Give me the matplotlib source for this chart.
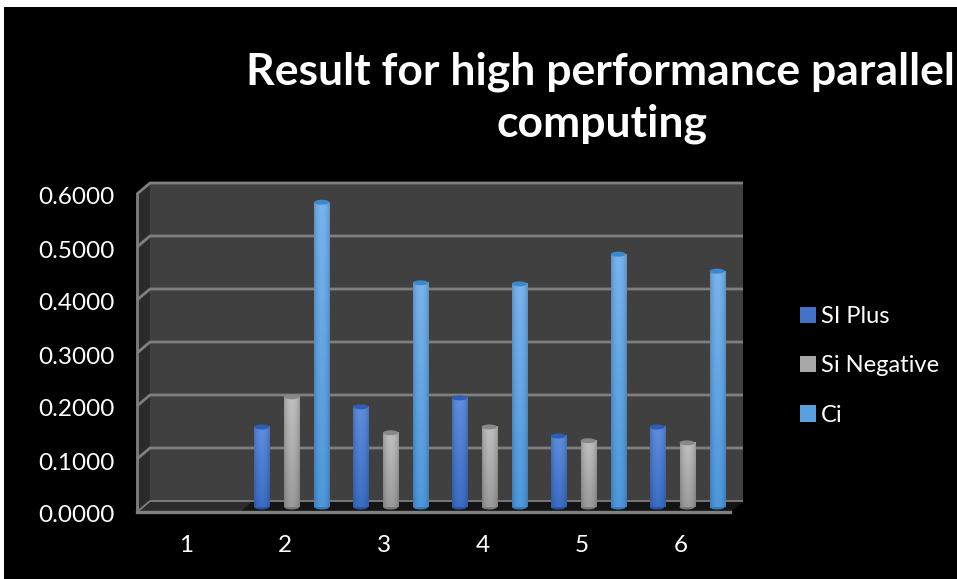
import numpy as np
import matplotlib
matplotlib.use("Agg")
import matplotlib.pyplot as plt
from matplotlib.patches import Ellipse, Patch, Polygon, Rectangle
from matplotlib.colors import to_rgb
from matplotlib.transforms import ScaledTranslation

categories = [1, 2, 3, 4, 5, 6]
si_plus = [0, 0.151, 0.189, 0.206, 0.134, 0.151]
si_negative = [0, 0.208, 0.140, 0.151, 0.125, 0.121]
ci = [0, 0.575, 0.423, 0.421, 0.477, 0.445]
y_ticks = [0, 0.1, 0.2, 0.3, 0.4, 0.5, 0.6]
series_names = ["SI Plus", "Si Negative", "Ci"]
series_dark = ["#2f62bd", "#8f8f8f", "#3f8fd8"]
series_light = ["#5f8ee0", "#c0c0c0", "#78b4ee"]
title_lines = ["Result for high performance parallel", "computing"]

plt.rcParams["font.family"] = ["Lato", "DejaVu Sans"]
W, H = 957, 579
fig = plt.figure(figsize=(W / 100, H / 100), dpi=100, facecolor="white")
fig.add_artist(Rectangle((4 / W, 0), 1, 1 - 7 / H, transform=fig.transFigure,
                         facecolor="black", edgecolor="none", zorder=-10))

# Axes rectangle is the front plane of the oblique box
ax = fig.add_axes([137 / W, (H - 512) / H, 593 / W, 318 / H])
ax.patch.set_visible(False)
ax.set_xlim(0.5, 6.5)
ax.set_ylim(0, 0.6)
for s in ax.spines.values():
    s.set_visible(False)

px_x = 6 / 593
px_y = 0.6 / 318
depth_dx, depth_dy = 13 * px_x, 11 * px_y


def shifted(dx, dy):
    return ax.transData + ScaledTranslation(dx / 100, dy / 100, fig.dpi_scale_trans)


mid = shifted(6.5, 5)

# Walls and floor
ax.add_patch(Rectangle((0.5 + depth_dx, depth_dy), 6, 0.6, facecolor="#404040",
                       edgecolor="none", zorder=1, clip_on=False))
ax.add_patch(Polygon([(0.5, 0), (0.5 + depth_dx, depth_dy), (0.5 + depth_dx, 0.6 + depth_dy), (0.5, 0.6)],
                     facecolor="#2b2b2b", edgecolor="none", zorder=1, clip_on=False))
ax.add_patch(Polygon([(0.5, 0), (6.5, 0), (6.5 + depth_dx, depth_dy), (0.5 + depth_dx, depth_dy)],
                     facecolor="#2c2c2c", edgecolor="none", zorder=1, clip_on=False))
# Shadow cast on the floor by the columns
shadow_start = 1.54
ax.add_patch(Polygon([(shadow_start, 0), (6.5, 0), (6.5 + depth_dx, depth_dy), (shadow_start + depth_dx, depth_dy)],
                     facecolor="#141414", edgecolor="none", zorder=1.1, clip_on=False))

# Gridlines run along the back wall and step down the side wall
grid = "#7f7f7f"
for v in y_ticks:
    xs = [0.5, 0.5 + depth_dx, 6.5 + depth_dx]
    ys = [v, v + depth_dy, v + depth_dy]
    lw = 1.3 if v == 0 else 2.0
    ax.plot(xs, ys, color=grid, lw=lw, zorder=2, clip_on=False, solid_capstyle="butt")
ax.plot([0.5, 0.5], [0, 0.6], color=grid, lw=2.0, zorder=2, clip_on=False)
ax.plot([0.5, 6.5], [0, 0], color=grid, lw=2.4, zorder=6, clip_on=False)

# Cylindrical columns
width = 0.152
cap = 5 * px_y
offsets = [-0.304, 0.0, 0.304]
columns = [si_plus, si_negative, ci]
t = np.linspace(-1, 1, 32)
shade = np.clip(np.sin((t + 1.1) / 2.2 * np.pi), 0, 1) ** 0.6
for k, values in enumerate(columns):
    dark, light = np.array(to_rgb(series_dark[k])), np.array(to_rgb(series_light[k]))
    xs = np.array(categories) + offsets[k]
    bars = ax.bar(xs, values, width=width, color=series_dark[k], transform=mid, zorder=3)
    for x, v, bar in zip(xs, values, bars):
        if v <= 0:
            continue
        vert = np.linspace(1, 0.25, 64)[:, None, None]
        horiz = (0.72 + 0.28 * shade)[None, :, None]
        img = np.clip((dark + (light - dark) * vert) * horiz, 0, 1)
        ax.imshow(img, extent=(x - width / 2, x + width / 2, 0, v), origin="upper",
                  aspect="auto", transform=mid, zorder=4, interpolation="bilinear")
        ax.add_patch(Ellipse((x, 0), width, cap, facecolor=dark * 0.85, edgecolor="none",
                             transform=mid, zorder=3.5, clip_on=False))
        ax.add_patch(Ellipse((x, v), width, cap, facecolor=dark * 0.95, edgecolor="none",
                             transform=mid, zorder=5, clip_on=False))
ax.set_xlim(0.5, 6.5)
ax.set_ylim(0, 0.6)
ax.set_aspect("auto")

# Axis labels
ax.set_xticks(categories)
ax.set_yticks(y_ticks)
ax.set_yticklabels([f"{v:.4f}" for v in y_ticks])
ax.tick_params(axis="both", length=0, colors="white", labelsize=17.5)
ax.tick_params(axis="y", pad=16)
ax.tick_params(axis="x", pad=16.5)
label_drop = ScaledTranslation(0, -2 / 100, fig.dpi_scale_trans)
for lab in ax.get_yticklabels():
    lab.set_transform(lab.get_transform() + label_drop)

fig.text(600 / W, 1 - 72 / H, title_lines[0], ha="center", va="center", color="white",
         fontsize=32, fontweight="bold")
fig.text(602 / W, 1 - 124 / H, title_lines[1], ha="center", va="center", color="white",
         fontsize=32, fontweight="bold")

handles = [Patch(facecolor=c, edgecolor="none") for c in ["#4472c8", "#a8a8a8", "#5a9fe0"]]
fig.legend(handles, series_names, loc="center left", bbox_to_anchor=(800 / W, 1 - 366 / H),
           frameon=False, labelcolor="white", fontsize=17, handlelength=0.68, handleheight=0.68,
           handletextpad=0.2, labelspacing=1.2, borderpad=0, borderaxespad=0)

fig.savefig("out.png", dpi=100, facecolor=fig.get_facecolor())
